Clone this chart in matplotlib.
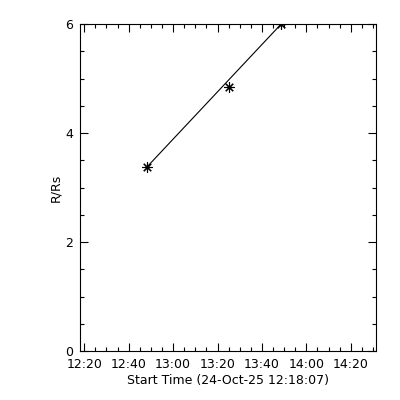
import matplotlib
matplotlib.use("Agg")
import matplotlib.pyplot as plt
import matplotlib.dates as mdates
from matplotlib.ticker import MultipleLocator
import numpy as np

times = np.array(["2025-10-24T12:48:20", "2025-10-24T13:25:20", "2025-10-24T13:48:40"], dtype="datetime64[s]")
r_rs = np.array([3.38, 4.84, 6.0])
x_start = np.datetime64("2025-10-24T12:18:07")
x_end = np.datetime64("2025-10-24T14:31:20")
y_ticks = [0, 2, 4, 6]

plt.rcParams['font.family'] = ['DejaVu Sans']
fig = plt.figure(figsize=(4, 4), dpi=100)
ax = fig.add_axes([0.2, 0.1225, 0.74, 0.8175])

t = times.astype("O")
# straight line from the first to the last measurement
ax.plot([t[0], t[-1]], [r_rs[0], r_rs[-1]], color="black", lw=0.8)
ax.plot(t, r_rs, ls="none", color="black", marker=(8, 2, 0), ms=7.5, mew=0.8)

ax.set_xlim(x_start.astype("O"), x_end.astype("O"))
ax.set_ylim(0, 6)
ax.xaxis.set_major_locator(mdates.MinuteLocator(byminute=[0, 20, 40]))
ax.xaxis.set_minor_locator(mdates.MinuteLocator(byminute=range(0, 60, 5)))
ax.xaxis.set_major_formatter(mdates.DateFormatter("%H:%M"))
ax.set_yticks(y_ticks)
ax.yaxis.set_minor_locator(MultipleLocator(0.5))

ax.tick_params(which="major", direction="in", length=6, width=0.8, top=True, right=True, labelsize=9, colors="black", pad=5)
ax.tick_params(which="minor", direction="in", length=3, width=0.8, top=True, right=True)
for s in ax.spines.values():
    s.set_linewidth(0.8)

ax.set_xlabel("Start Time (24-Oct-25 12:18:07)", fontsize=9, labelpad=2)
ax.set_ylabel("R/Rs", fontsize=9, labelpad=2)

fig.savefig("out.png", dpi=100)
